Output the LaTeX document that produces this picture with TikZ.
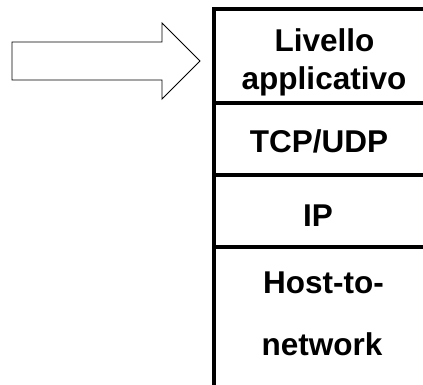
\documentclass[tikz,border=0pt]{standalone}
\usepackage{fontspec}
\setmainfont{Liberation Sans}
\begin{document}
\begin{tikzpicture}[x=1pt,y=-1pt,
  layerline/.style={line width=3.6pt,line cap=rect},
  label/.style={anchor=base,inner sep=0pt,font=\bfseries\fontsize{31.5}{38}\selectfont},
  bigarrow/.style={draw=black,line width=0.9pt,fill=white,line join=miter}]
\useasboundingbox (0,0) rectangle (423,385);
\clip (0,0) rectangle (423,385);

% hollow block arrow pointing at the stack
\draw[bigarrow] (12,42) -- (162,42) -- (162,23) -- (200,61) -- (162,99)
  -- (162,80) -- (12,80) -- cycle;

% protocol stack: outline and layer separators
\coordinate (topright) at (440,9);
\coordinate (topleft) at (214,9);
\coordinate (bottomleft) at (214,400);
\draw[layerline] (topright) -- (topleft) -- (bottomleft);
\coordinate (d1l) at (214,103);  \coordinate (d1r) at (440,103);
\coordinate (d2l) at (214,175);  \coordinate (d2r) at (440,175);
\coordinate (d3l) at (214,247);  \coordinate (d3r) at (440,247);
\draw[layerline] (d1l) -- (d1r);
\draw[layerline] (d2l) -- (d2r);
\draw[layerline] (d3l) -- (d3r);

% layer names
\node[label] (appA) at (324.5,52) {Livello};
\node[label] (appB) at (324,90) {applicativo};
\node[label] (tcp)  at (319,153) {TCP/UDP};
\node[label] (ip)   at (318,226) {IP};
\node[label] (htnA) at (323.5,293) {Host-to-};
\node[label] (htnB) at (322,355) {network};
\end{tikzpicture}
\end{document}
